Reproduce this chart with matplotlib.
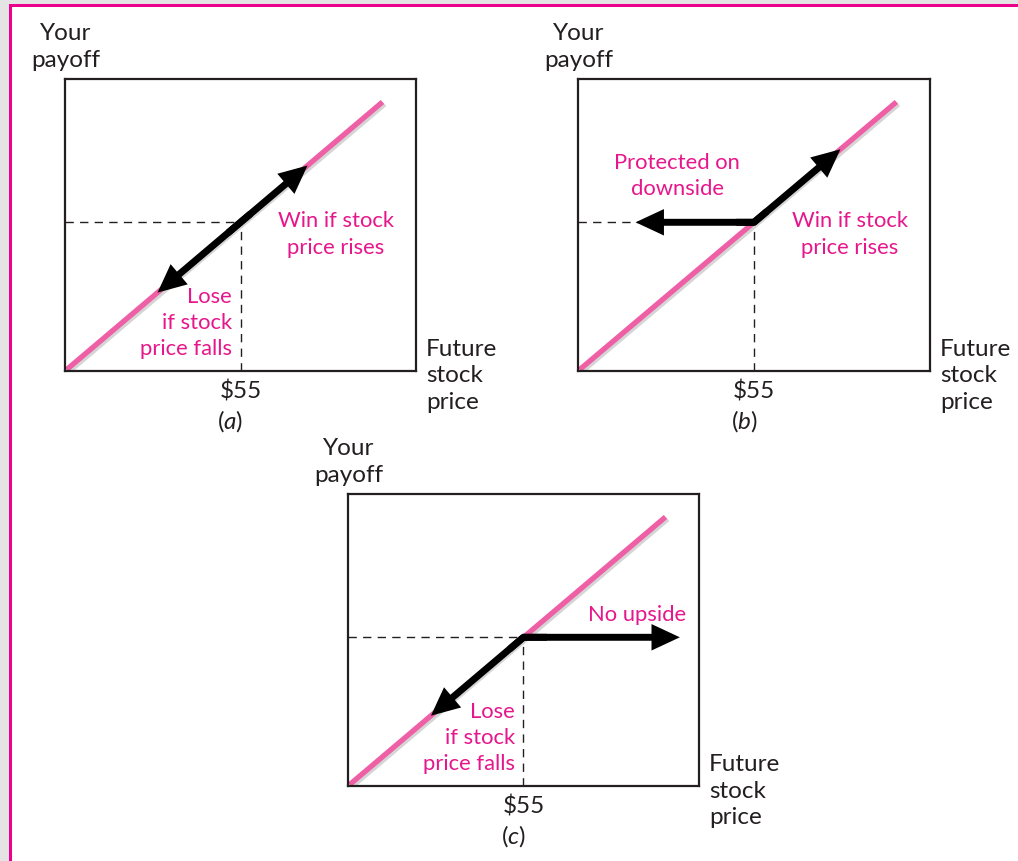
import matplotlib
matplotlib.use('Agg')
import matplotlib.pyplot as plt
import matplotlib.patheffects as pe
from matplotlib.patches import Rectangle

plt.rcParams['font.family'] = ['Lato', 'DejaVu Sans']
plt.rcParams['mathtext.fontset'] = 'custom'
plt.rcParams['mathtext.rm'] = 'Lato'
plt.rcParams['mathtext.it'] = 'Lato:italic'

# data
strike = 55
prices = [0.5, 99.5]          # future stock price, ends of the pink payoff line
payoff = [0.5, 99.5]          # long stock: payoff = price
strike_label = '$55'
a_low, a_high = 29, 76        # (a) double arrow tips
b_left, b_up = 18, 82         # (b) protected downside / upside tips
c_right, c_down = 104, 26     # (c) no upside / downside tips

W, H = 1018, 861
PINK_TXT = '#E6178C'
PINK_LINE = '#EE5FA5'
INK = '#231F20'
PX = 0.72  # points per pixel at 100 dpi

fig = plt.figure(figsize=(W / 100, H / 100), dpi=100)
fig.patch.set_facecolor('white')
# grey page edge and magenta frame
fig.add_artist(Rectangle((0, 1 - 4 / H), 1, 4 / H, transform=fig.transFigure, color='#E4E4E4', lw=0))
fig.add_artist(Rectangle((0, 0), 9 / W, 1, transform=fig.transFigure, color='#E4E4E4', lw=0))
fig.add_artist(Rectangle((9 / W, 1 - 7 / H), 1, 3 / H, transform=fig.transFigure, color='#EC008C', lw=0))
fig.add_artist(Rectangle((9 / W, 0), 3 / W, 1 - 4 / H, transform=fig.transFigure, color='#EC008C', lw=0))


def box(l, t, r, b):
    return fig.add_axes([l / W, 1 - b / H, (r - l) / W, (b - t) / H])


def setup(ax, tag):
    ax.set_xlim(0, 110)
    ax.set_ylim(0, 108)
    ax.set_xticks([strike])
    ax.set_xticklabels([strike_label], fontsize=17.5, color=INK)
    ax.tick_params(axis='x', length=0, pad=7)
    ax.set_yticks([])
    for s in ax.spines.values():
        s.set_linewidth(1.6)
        s.set_color(INK)
    ax.plot(prices, payoff, color=PINK_LINE, lw=3.8, solid_capstyle='butt', zorder=2,
            path_effects=[pe.SimpleLineShadow(offset=(1.5, -1.5), shadow_color='#888888', alpha=0.35),
                          pe.Normal()])
    ax.annotate('Your\npayoff', xy=(0, 1), xycoords='axes fraction', xytext=(1 * PX, 32 * PX),
                textcoords='offset points', ha='center', va='center', fontsize=17.5,
                color=INK, linespacing=1.35)
    ax.annotate('Future\nstock\nprice', xy=(1, 0), xycoords='axes fraction', xytext=(10 * PX, -5 * PX),
                textcoords='offset points', ha='left', va='center', fontsize=17.5,
                color=INK, linespacing=1.35)
    ax.annotate('($\\mathit{%s}$)' % tag, xy=(strike, 0), xycoords=('data', 'axes fraction'),
                xytext=(-10 * PX, -50 * PX), textcoords='offset points', ha='center', va='center',
                fontsize=17.5, color=INK)


def dashed(ax, xmax, ymax):
    ax.plot([0, xmax], [strike, strike], color=INK, lw=1, dashes=(6, 4.5), zorder=1)
    ax.plot([strike, strike], [0, ymax], color=INK, lw=1, dashes=(6, 4.5), zorder=1)


def arrow(ax, x, y):
    ax.annotate('', xy=(x, y), xytext=(strike, strike),
                arrowprops=dict(arrowstyle='-|>,head_length=0.6,head_width=0.28', lw=5, color='k',
                                shrinkA=0, shrinkB=0, mutation_scale=20, joinstyle='miter',
                                capstyle='butt'), zorder=4)


def corner(ax, p1, p2):
    xs = [strike + 0.15 * (p1[0] - strike), strike, strike + 0.15 * (p2[0] - strike)]
    ys = [strike + 0.15 * (p1[1] - strike), strike, strike + 0.15 * (p2[1] - strike)]
    ax.plot(xs, ys, color='k', lw=5, solid_joinstyle='miter', solid_capstyle='butt', zorder=4)


txt = dict(color=PINK_TXT, fontsize=15.8, linespacing=1.38, va='center')

# (a) long stock
ax_a = box(65, 79, 416, 371)
setup(ax_a, 'a')
dashed(ax_a, strike, strike)
arrow(ax_a, a_high, a_high)
arrow(ax_a, a_low, a_low)
corner(ax_a, (a_low, a_low), (a_high, a_high))
ax_a.text(84.9, 50.5, 'Win if stock\nprice rises', ha='center', **txt)
ax_a.text(52.3, 17.8, 'Lose\nif stock\nprice falls', ha='right', multialignment='right', **txt)

# (b) protected downside
ax_b = box(578, 79, 930, 371)
setup(ax_b, 'b')
dashed(ax_b, strike, strike)
arrow(ax_b, b_left, strike)
arrow(ax_b, b_up, b_up)
corner(ax_b, (b_left, strike), (b_up, b_up))
ax_b.text(31.0, 72.1, 'Protected on\ndownside', ha='center', **txt)
ax_b.text(84.9, 50.5, 'Win if stock\nprice rises', ha='center', **txt)

# (c) no upside
ax_c = box(348, 494, 699, 786)
setup(ax_c, 'c')
dashed(ax_c, strike, strike)
arrow(ax_c, c_right, strike)
arrow(ax_c, c_down, c_down)
corner(ax_c, (c_down, c_down), (c_right, strike))
ax_c.text(90.6, 63.3, 'No upside', ha='center', **txt)
ax_c.text(52.3, 17.8, 'Lose\nif stock\nprice falls', ha='right', multialignment='right', **txt)

fig.savefig('out.png', dpi=100)
